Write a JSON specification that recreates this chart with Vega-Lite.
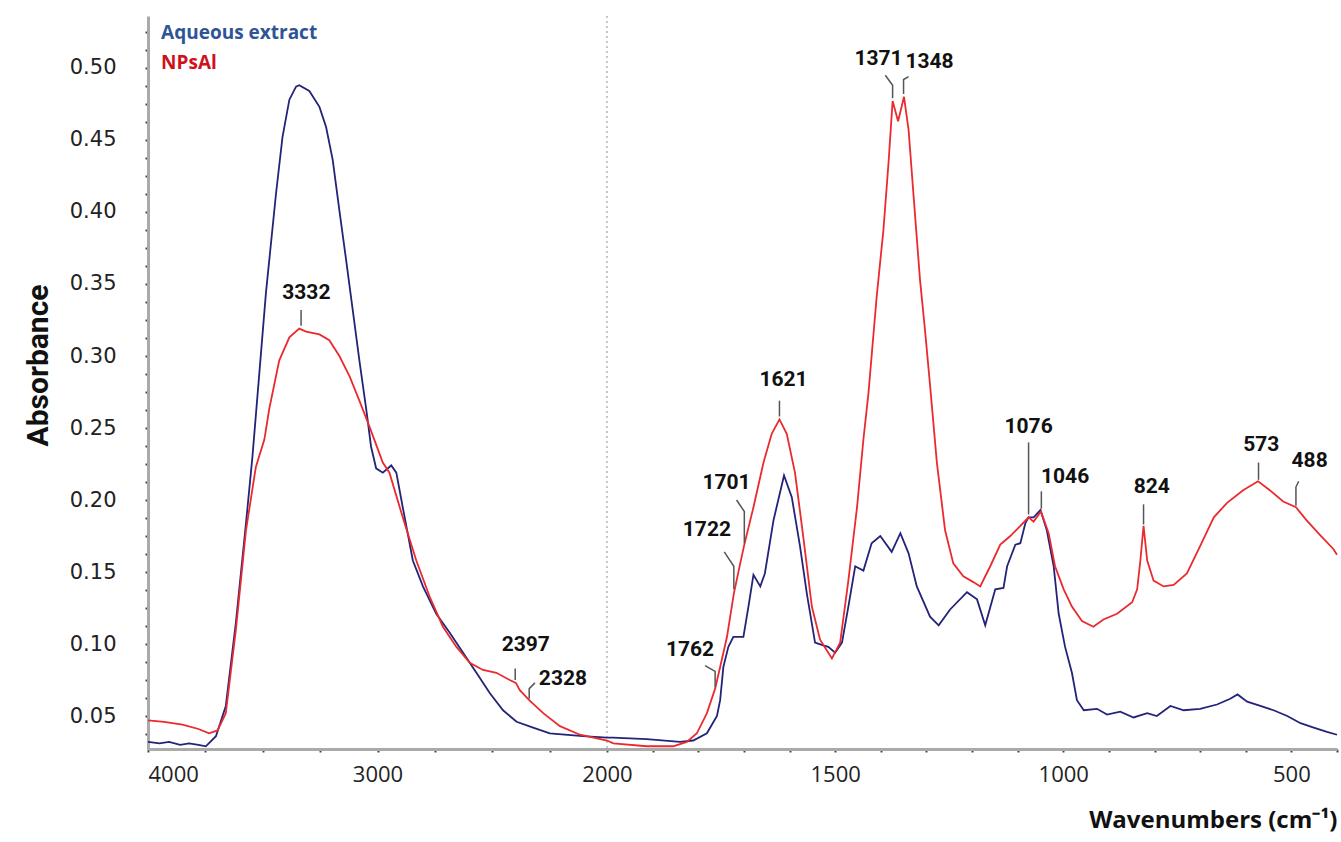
{
  "$schema": "https://vega.github.io/schema/vega-lite/v6.json",
  "width": 1189,
  "height": 733,
  "autosize": {"type": "none"},
  "padding": {"left": 148, "top": 16, "right": 4, "bottom": 93},
  "background": "white",
  "config": {"view": {"stroke": null}},
  "datasets": {
    "spectra": [
      {"s":"Aqueous extract","wn":4000,"a":0.032},{"s":"Aqueous extract","wn":3950,"a":0.031},{"s":"Aqueous extract","wn":3908,"a":0.032},{"s":"Aqueous extract","wn":3860,"a":0.030},{"s":"Aqueous extract","wn":3821,"a":0.031},{"s":"Aqueous extract","wn":3780,"a":0.030},{"s":"Aqueous extract","wn":3748,"a":0.029},{"s":"Aqueous extract","wn":3704,"a":0.036},{"s":"Aqueous extract","wn":3661,"a":0.057},{"s":"Aqueous extract","wn":3617,"a":0.115},{"s":"Aqueous extract","wn":3573,"a":0.184},{"s":"Aqueous extract","wn":3545,"a":0.230},{"s":"Aqueous extract","wn":3486,"a":0.344},{"s":"Aqueous extract","wn":3442,"a":0.413},{"s":"Aqueous extract","wn":3414,"a":0.452},{"s":"Aqueous extract","wn":3384,"a":0.478},{"s":"Aqueous extract","wn":3355,"a":0.487},{"s":"Aqueous extract","wn":3341,"a":0.488},{"s":"Aqueous extract","wn":3297,"a":0.484},{"s":"Aqueous extract","wn":3253,"a":0.473},{"s":"Aqueous extract","wn":3224,"a":0.459},{"s":"Aqueous extract","wn":3195,"a":0.436},{"s":"Aqueous extract","wn":3166,"a":0.401},{"s":"Aqueous extract","wn":3137,"a":0.367},{"s":"Aqueous extract","wn":3108,"a":0.332},{"s":"Aqueous extract","wn":3079,"a":0.297},{"s":"Aqueous extract","wn":3049,"a":0.263},{"s":"Aqueous extract","wn":3028,"a":0.237},{"s":"Aqueous extract","wn":3006,"a":0.222},{"s":"Aqueous extract","wn":2977,"a":0.219},{"s":"Aqueous extract","wn":2940,"a":0.224},{"s":"Aqueous extract","wn":2918,"a":0.219},{"s":"Aqueous extract","wn":2890,"a":0.195},{"s":"Aqueous extract","wn":2846,"a":0.158},{"s":"Aqueous extract","wn":2802,"a":0.140},{"s":"Aqueous extract","wn":2744,"a":0.121},{"s":"Aqueous extract","wn":2686,"a":0.108},{"s":"Aqueous extract","wn":2627,"a":0.094},{"s":"Aqueous extract","wn":2569,"a":0.080},{"s":"Aqueous extract","wn":2511,"a":0.066},{"s":"Aqueous extract","wn":2453,"a":0.054},{"s":"Aqueous extract","wn":2394,"a":0.046},{"s":"Aqueous extract","wn":2322,"a":0.042},{"s":"Aqueous extract","wn":2249,"a":0.038},{"s":"Aqueous extract","wn":2105,"a":0.036},{"s":"Aqueous extract","wn":2000,"a":0.035},{"s":"Aqueous extract","wn":1987,"a":0.035},{"s":"Aqueous extract","wn":1913,"a":0.034},{"s":"Aqueous extract","wn":1840,"a":0.032},{"s":"Aqueous extract","wn":1811,"a":0.033},{"s":"Aqueous extract","wn":1781,"a":0.038},{"s":"Aqueous extract","wn":1759,"a":0.050},{"s":"Aqueous extract","wn":1752,"a":0.061},{"s":"Aqueous extract","wn":1745,"a":0.084},{"s":"Aqueous extract","wn":1734,"a":0.098},{"s":"Aqueous extract","wn":1723,"a":0.105},{"s":"Aqueous extract","wn":1701,"a":0.105},{"s":"Aqueous extract","wn":1690,"a":0.126},{"s":"Aqueous extract","wn":1679,"a":0.148},{"s":"Aqueous extract","wn":1664,"a":0.140},{"s":"Aqueous extract","wn":1654,"a":0.149},{"s":"Aqueous extract","wn":1635,"a":0.186},{"s":"Aqueous extract","wn":1612,"a":0.217},{"s":"Aqueous extract","wn":1595,"a":0.202},{"s":"Aqueous extract","wn":1577,"a":0.168},{"s":"Aqueous extract","wn":1562,"a":0.135},{"s":"Aqueous extract","wn":1544,"a":0.101},{"s":"Aqueous extract","wn":1526,"a":0.099},{"s":"Aqueous extract","wn":1515,"a":0.098},{"s":"Aqueous extract","wn":1500,"a":0.094},{"s":"Aqueous extract","wn":1485,"a":0.101},{"s":"Aqueous extract","wn":1471,"a":0.126},{"s":"Aqueous extract","wn":1456,"a":0.154},{"s":"Aqueous extract","wn":1438,"a":0.151},{"s":"Aqueous extract","wn":1420,"a":0.170},{"s":"Aqueous extract","wn":1401,"a":0.175},{"s":"Aqueous extract","wn":1376,"a":0.164},{"s":"Aqueous extract","wn":1357,"a":0.177},{"s":"Aqueous extract","wn":1339,"a":0.163},{"s":"Aqueous extract","wn":1321,"a":0.140},{"s":"Aqueous extract","wn":1292,"a":0.119},{"s":"Aqueous extract","wn":1273,"a":0.113},{"s":"Aqueous extract","wn":1248,"a":0.124},{"s":"Aqueous extract","wn":1211,"a":0.136},{"s":"Aqueous extract","wn":1189,"a":0.131},{"s":"Aqueous extract","wn":1171,"a":0.113},{"s":"Aqueous extract","wn":1149,"a":0.138},{"s":"Aqueous extract","wn":1131,"a":0.139},{"s":"Aqueous extract","wn":1123,"a":0.154},{"s":"Aqueous extract","wn":1105,"a":0.169},{"s":"Aqueous extract","wn":1094,"a":0.170},{"s":"Aqueous extract","wn":1083,"a":0.184},{"s":"Aqueous extract","wn":1076,"a":0.188},{"s":"Aqueous extract","wn":1065,"a":0.188},{"s":"Aqueous extract","wn":1050,"a":0.193},{"s":"Aqueous extract","wn":1036,"a":0.179},{"s":"Aqueous extract","wn":1021,"a":0.154},{"s":"Aqueous extract","wn":1010,"a":0.121},{"s":"Aqueous extract","wn":996,"a":0.098},{"s":"Aqueous extract","wn":981,"a":0.080},{"s":"Aqueous extract","wn":970,"a":0.061},{"s":"Aqueous extract","wn":955,"a":0.054},{"s":"Aqueous extract","wn":926,"a":0.055},{"s":"Aqueous extract","wn":904,"a":0.051},{"s":"Aqueous extract","wn":875,"a":0.053},{"s":"Aqueous extract","wn":846,"a":0.049},{"s":"Aqueous extract","wn":816,"a":0.052},{"s":"Aqueous extract","wn":795,"a":0.050},{"s":"Aqueous extract","wn":765,"a":0.057},{"s":"Aqueous extract","wn":736,"a":0.054},{"s":"Aqueous extract","wn":700,"a":0.055},{"s":"Aqueous extract","wn":663,"a":0.058},{"s":"Aqueous extract","wn":634,"a":0.062},{"s":"Aqueous extract","wn":618,"a":0.065},{"s":"Aqueous extract","wn":597,"a":0.060},{"s":"Aqueous extract","wn":568,"a":0.057},{"s":"Aqueous extract","wn":539,"a":0.054},{"s":"Aqueous extract","wn":509,"a":0.050},{"s":"Aqueous extract","wn":480,"a":0.045},{"s":"Aqueous extract","wn":451,"a":0.042},{"s":"Aqueous extract","wn":422,"a":0.039},{"s":"Aqueous extract","wn":400,"a":0.037},
      {"s":"NPsAl","wn":4000,"a":0.047},{"s":"NPsAl","wn":3930,"a":0.046},{"s":"NPsAl","wn":3850,"a":0.044},{"s":"NPsAl","wn":3780,"a":0.041},{"s":"NPsAl","wn":3734,"a":0.038},{"s":"NPsAl","wn":3697,"a":0.040},{"s":"NPsAl","wn":3661,"a":0.052},{"s":"NPsAl","wn":3617,"a":0.110},{"s":"NPsAl","wn":3573,"a":0.179},{"s":"NPsAl","wn":3530,"a":0.223},{"s":"NPsAl","wn":3493,"a":0.242},{"s":"NPsAl","wn":3472,"a":0.263},{"s":"NPsAl","wn":3428,"a":0.297},{"s":"NPsAl","wn":3384,"a":0.313},{"s":"NPsAl","wn":3341,"a":0.319},{"s":"NPsAl","wn":3311,"a":0.317},{"s":"NPsAl","wn":3253,"a":0.315},{"s":"NPsAl","wn":3210,"a":0.311},{"s":"NPsAl","wn":3166,"a":0.300},{"s":"NPsAl","wn":3122,"a":0.286},{"s":"NPsAl","wn":3079,"a":0.269},{"s":"NPsAl","wn":3035,"a":0.251},{"s":"NPsAl","wn":2991,"a":0.232},{"s":"NPsAl","wn":2977,"a":0.226},{"s":"NPsAl","wn":2948,"a":0.219},{"s":"NPsAl","wn":2890,"a":0.188},{"s":"NPsAl","wn":2831,"a":0.158},{"s":"NPsAl","wn":2773,"a":0.133},{"s":"NPsAl","wn":2715,"a":0.112},{"s":"NPsAl","wn":2656,"a":0.098},{"s":"NPsAl","wn":2598,"a":0.087},{"s":"NPsAl","wn":2540,"a":0.082},{"s":"NPsAl","wn":2482,"a":0.080},{"s":"NPsAl","wn":2424,"a":0.075},{"s":"NPsAl","wn":2397,"a":0.073},{"s":"NPsAl","wn":2380,"a":0.068},{"s":"NPsAl","wn":2339,"a":0.061},{"s":"NPsAl","wn":2278,"a":0.052},{"s":"NPsAl","wn":2205,"a":0.043},{"s":"NPsAl","wn":2118,"a":0.037},{"s":"NPsAl","wn":2000,"a":0.033},{"s":"NPsAl","wn":1986,"a":0.031},{"s":"NPsAl","wn":1913,"a":0.029},{"s":"NPsAl","wn":1855,"a":0.029},{"s":"NPsAl","wn":1825,"a":0.032},{"s":"NPsAl","wn":1803,"a":0.038},{"s":"NPsAl","wn":1781,"a":0.052},{"s":"NPsAl","wn":1763,"a":0.069},{"s":"NPsAl","wn":1752,"a":0.084},{"s":"NPsAl","wn":1737,"a":0.105},{"s":"NPsAl","wn":1722,"a":0.135},{"s":"NPsAl","wn":1708,"a":0.156},{"s":"NPsAl","wn":1699,"a":0.169},{"s":"NPsAl","wn":1679,"a":0.195},{"s":"NPsAl","wn":1657,"a":0.226},{"s":"NPsAl","wn":1639,"a":0.246},{"s":"NPsAl","wn":1622,"a":0.256},{"s":"NPsAl","wn":1606,"a":0.246},{"s":"NPsAl","wn":1588,"a":0.219},{"s":"NPsAl","wn":1570,"a":0.175},{"s":"NPsAl","wn":1551,"a":0.126},{"s":"NPsAl","wn":1533,"a":0.103},{"s":"NPsAl","wn":1507,"a":0.090},{"s":"NPsAl","wn":1489,"a":0.101},{"s":"NPsAl","wn":1471,"a":0.144},{"s":"NPsAl","wn":1452,"a":0.195},{"s":"NPsAl","wn":1438,"a":0.242},{"s":"NPsAl","wn":1427,"a":0.274},{"s":"NPsAl","wn":1409,"a":0.341},{"s":"NPsAl","wn":1394,"a":0.388},{"s":"NPsAl","wn":1383,"a":0.434},{"s":"NPsAl","wn":1374,"a":0.477},{"s":"NPsAl","wn":1362,"a":0.463},{"s":"NPsAl","wn":1349,"a":0.480},{"s":"NPsAl","wn":1339,"a":0.457},{"s":"NPsAl","wn":1328,"a":0.411},{"s":"NPsAl","wn":1314,"a":0.353},{"s":"NPsAl","wn":1303,"a":0.318},{"s":"NPsAl","wn":1292,"a":0.280},{"s":"NPsAl","wn":1277,"a":0.226},{"s":"NPsAl","wn":1259,"a":0.179},{"s":"NPsAl","wn":1241,"a":0.156},{"s":"NPsAl","wn":1219,"a":0.147},{"s":"NPsAl","wn":1197,"a":0.143},{"s":"NPsAl","wn":1182,"a":0.140},{"s":"NPsAl","wn":1160,"a":0.154},{"s":"NPsAl","wn":1138,"a":0.169},{"s":"NPsAl","wn":1116,"a":0.175},{"s":"NPsAl","wn":1094,"a":0.182},{"s":"NPsAl","wn":1076,"a":0.188},{"s":"NPsAl","wn":1065,"a":0.185},{"s":"NPsAl","wn":1049,"a":0.192},{"s":"NPsAl","wn":1032,"a":0.177},{"s":"NPsAl","wn":1018,"a":0.154},{"s":"NPsAl","wn":999,"a":0.138},{"s":"NPsAl","wn":981,"a":0.126},{"s":"NPsAl","wn":959,"a":0.116},{"s":"NPsAl","wn":934,"a":0.112},{"s":"NPsAl","wn":912,"a":0.117},{"s":"NPsAl","wn":882,"a":0.121},{"s":"NPsAl","wn":849,"a":0.129},{"s":"NPsAl","wn":838,"a":0.138},{"s":"NPsAl","wn":831,"a":0.158},{"s":"NPsAl","wn":824,"a":0.182},{"s":"NPsAl","wn":816,"a":0.158},{"s":"NPsAl","wn":802,"a":0.144},{"s":"NPsAl","wn":780,"a":0.140},{"s":"NPsAl","wn":758,"a":0.141},{"s":"NPsAl","wn":729,"a":0.149},{"s":"NPsAl","wn":700,"a":0.168},{"s":"NPsAl","wn":670,"a":0.188},{"s":"NPsAl","wn":641,"a":0.198},{"s":"NPsAl","wn":605,"a":0.207},{"s":"NPsAl","wn":573,"a":0.213},{"s":"NPsAl","wn":548,"a":0.207},{"s":"NPsAl","wn":518,"a":0.199},{"s":"NPsAl","wn":490,"a":0.195},{"s":"NPsAl","wn":467,"a":0.186},{"s":"NPsAl","wn":438,"a":0.176},{"s":"NPsAl","wn":408,"a":0.166},{"s":"NPsAl","wn":400,"a":0.162}
    ],
    "leaders": [
      {"id":"3332","o":0,"wn":3333,"a":0.321},{"id":"3332","o":1,"wn":3333,"a":0.332},
      {"id":"2397","o":0,"wn":2400,"a":0.075},{"id":"2397","o":1,"wn":2400,"a":0.083},
      {"id":"2328","o":0,"wn":2339,"a":0.062},{"id":"2328","o":1,"wn":2339,"a":0.069},{"id":"2328","o":2,"wn":2314,"a":0.073},
      {"id":"1762","o":0,"wn":1763,"a":0.070},{"id":"1762","o":1,"wn":1763,"a":0.081},{"id":"1762","o":2,"wn":1785,"a":0.085},
      {"id":"1722","o":0,"wn":1722,"a":0.138},{"id":"1722","o":1,"wn":1722,"a":0.154},{"id":"1722","o":2,"wn":1743,"a":0.164},
      {"id":"1701","o":0,"wn":1699,"a":0.170},{"id":"1701","o":1,"wn":1699,"a":0.192},{"id":"1701","o":2,"wn":1716,"a":0.200},
      {"id":"1621","o":0,"wn":1622,"a":0.258},{"id":"1621","o":1,"wn":1622,"a":0.269},
      {"id":"1371","o":0,"wn":1374,"a":0.479},{"id":"1371","o":1,"wn":1374,"a":0.488},{"id":"1371","o":2,"wn":1390,"a":0.495},
      {"id":"1348","o":0,"wn":1350,"a":0.482},{"id":"1348","o":1,"wn":1350,"a":0.492},{"id":"1348","o":2,"wn":1339,"a":0.494},
      {"id":"1076","o":0,"wn":1076,"a":0.190},{"id":"1076","o":1,"wn":1076,"a":0.240},
      {"id":"1046","o":0,"wn":1048,"a":0.194},{"id":"1046","o":1,"wn":1048,"a":0.206},
      {"id":"824","o":0,"wn":824,"a":0.183},{"id":"824","o":1,"wn":824,"a":0.197},
      {"id":"573","o":0,"wn":572,"a":0.214},{"id":"573","o":1,"wn":572,"a":0.226},
      {"id":"488","o":0,"wn":490,"a":0.196},{"id":"488","o":1,"wn":490,"a":0.209},{"id":"488","o":2,"wn":484,"a":0.213}
    ],
    "labels": [
      {"t":"3332","wn":3310,"a":0.344},{"t":"2397","wn":2354,"a":0.099},{"t":"2328","wn":2192,"a":0.076},
      {"t":"1762","wn":1818,"a":0.096},{"t":"1722","wn":1781,"a":0.179},{"t":"1701","wn":1738,"a":0.212},
      {"t":"1621","wn":1613,"a":0.283},{"t":"1371","wn":1405,"a":0.506},{"t":"1348","wn":1293,"a":0.504},
      {"t":"1076","wn":1076,"a":0.251},{"t":"1046","wn":996,"a":0.216},{"t":"824","wn":806,"a":0.209},
      {"t":"573","wn":566,"a":0.238},{"t":"488","wn":460,"a":0.227}
    ],
    "legend": [
      {"t":"Aqueous extract","wn":3943,"a":0.524},
      {"t":"NPsAl","wn":3943,"a":0.5035}
    ],
    "divider": [{"wn":2000}]
  },
  "layer": [
    {
      "data": {"name": "divider"},
      "mark": {"type": "rule", "color": "#b5b5b5", "strokeWidth": 1.5, "strokeDash": [2, 3]},
      "encoding": {
        "x": {"field": "wn", "type": "quantitative",
              "scale": {"domain": [4000, 2000, 400], "range": [0, 459, 1189], "nice": false, "zero": false}}
      }
    },
    {
      "data": {"name": "spectra"},
      "mark": {"type": "line", "strokeWidth": 1.8},
      "encoding": {
        "x": {"field": "wn", "type": "quantitative",
              "scale": {"domain": [4000, 2000, 400], "range": [0, 459, 1189], "nice": false, "zero": false},
              "axis": {
                "values": [4000, 3750, 3500, 3250, 3000, 2750, 2500, 2250, 2000, 1900, 1800, 1700, 1600, 1500, 1400, 1300, 1200, 1100, 1000, 900, 800, 700, 600, 500, 400],
                "tickCount": 200,
                "labelExpr": "indexof([4000,3000,2000,1500,1000,500], datum.value) >= 0 ? format(datum.value, 'd') : ''",
                "labelFlush": true, "labelOverlap": false, "grid": false,
                "labelFont": "Open Sans", "labelFontSize": 22, "labelColor": "#222", "labelPadding": 12,
                "tickSize": 3, "tickWidth": 2, "tickColor": "#444",
                "domainColor": "#aaaaaa", "domainWidth": 3,
                "title": "Wavenumbers (cm⁻¹)", "titleFont": "Open Sans", "titleFontSize": 24, "titleFontWeight": "bold", "titleColor": "#111",
                "titleX": 1189, "titleY": 71, "titleAlign": "right", "titleBaseline": "middle", "titleAnchor": "end"
              }},
        "y": {"field": "a", "type": "quantitative",
              "scale": {"domain": [0.0271, 0.5361], "nice": false, "zero": false},
              "axis": {
                "values": [0.0375, 0.05, 0.0625, 0.075, 0.0875, 0.1, 0.1125, 0.125, 0.1375, 0.15, 0.1625, 0.175, 0.1875, 0.2, 0.2125, 0.225, 0.2375, 0.25, 0.2625, 0.275, 0.2875, 0.3, 0.3125, 0.325, 0.3375, 0.35, 0.3625, 0.375, 0.3875, 0.4, 0.4125, 0.425, 0.4375, 0.45, 0.4625, 0.475, 0.4875, 0.5, 0.5125, 0.525],
                "tickCount": 200,
                "labelExpr": "indexof([0.05,0.1,0.15,0.2,0.25,0.3,0.35,0.4,0.45,0.5], datum.value) >= 0 ? format(datum.value, '.2f') : ''",
                "labelOverlap": false, "labelBound": false, "grid": false,
                "labelFont": "DejaVu Sans", "labelFontSize": 21, "labelColor": "#222", "labelPadding": 29,
                "tickSize": 3, "tickWidth": 2, "tickColor": "#444",
                "domainColor": "#aaaaaa", "domainWidth": 3,
                "title": "Absorbance", "titleFont": "Roboto", "titleFontSize": 30, "titleFontWeight": "bold", "titleColor": "#111",
                "titleX": -110, "titleY": 349, "titleAlign": "center", "titleBaseline": "middle", "titleAngle": 270
              }},
        "color": {"field": "s", "type": "nominal", "legend": null,
                  "scale": {"domain": ["Aqueous extract", "NPsAl"], "range": ["#23237a", "#ea2a2e"]}},
        "order": {"field": "wn", "sort": "descending"}
      }
    },
    {
      "data": {"name": "leaders"},
      "mark": {"type": "line", "color": "#555555", "strokeWidth": 1.5},
      "encoding": {
        "x": {"field": "wn", "type": "quantitative",
              "scale": {"domain": [4000, 2000, 400], "range": [0, 459, 1189], "nice": false, "zero": false}},
        "y": {"field": "a", "type": "quantitative",
              "scale": {"domain": [0.0271, 0.5361], "nice": false, "zero": false}},
        "detail": {"field": "id", "type": "nominal"},
        "order": {"field": "o", "type": "quantitative"}
      }
    },
    {
      "data": {"name": "labels"},
      "mark": {"type": "text", "font": "Roboto", "fontWeight": "bold", "fontSize": 21, "color": "#111", "align": "center", "baseline": "middle"},
      "encoding": {
        "x": {"field": "wn", "type": "quantitative",
              "scale": {"domain": [4000, 2000, 400], "range": [0, 459, 1189], "nice": false, "zero": false}},
        "y": {"field": "a", "type": "quantitative",
              "scale": {"domain": [0.0271, 0.5361], "nice": false, "zero": false}},
        "text": {"field": "t", "type": "nominal"}
      }
    },
    {
      "data": {"name": "legend"},
      "transform": [{"filter": "datum.t == 'Aqueous extract'"}],
      "mark": {"type": "text", "font": "Open Sans", "fontWeight": "bold", "fontSize": 19, "color": "#2f5496", "align": "left", "baseline": "middle"},
      "encoding": {
        "x": {"field": "wn", "type": "quantitative",
              "scale": {"domain": [4000, 2000, 400], "range": [0, 459, 1189], "nice": false, "zero": false}},
        "y": {"field": "a", "type": "quantitative",
              "scale": {"domain": [0.0271, 0.5361], "nice": false, "zero": false}},
        "text": {"field": "t", "type": "nominal"}
      }
    },
    {
      "data": {"name": "legend"},
      "transform": [{"filter": "datum.t == 'NPsAl'"}],
      "mark": {"type": "text", "font": "Open Sans", "fontWeight": "bold", "fontSize": 19, "color": "#d0111b", "align": "left", "baseline": "middle"},
      "encoding": {
        "x": {"field": "wn", "type": "quantitative",
              "scale": {"domain": [4000, 2000, 400], "range": [0, 459, 1189], "nice": false, "zero": false}},
        "y": {"field": "a", "type": "quantitative",
              "scale": {"domain": [0.0271, 0.5361], "nice": false, "zero": false}},
        "text": {"field": "t", "type": "nominal"}
      }
    }
  ]
}
